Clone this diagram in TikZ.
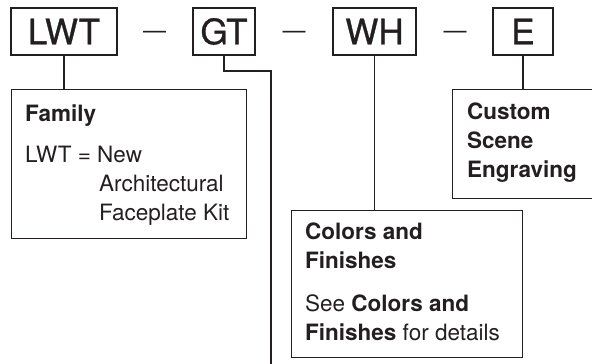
\documentclass[tikz,border=0pt]{standalone}
\usepackage{fontspec}
\setmainfont{TeX Gyre Heros}
\newfontfamily\codefont[FakeBold=0.8]{TeX Gyre Heros}
\definecolor{ink}{HTML}{231F20}
\begin{document}
\begin{tikzpicture}[x=1pt,y=-1pt,
  ln/.style={line width=1.4pt, draw=ink},
  codebox/.style={draw=ink, line width=1.4pt, inner sep=0pt, minimum height=47pt, font=\codefont\fontsize{35}{35}\selectfont, text=ink},
  infobox/.style={draw=ink, line width=1.4pt, inner sep=0pt, anchor=north west},
  txt/.style={anchor=base west, inner sep=0pt, font=\fontsize{22.5}{27}\selectfont, text=ink},
  hd/.style={txt, font=\fontsize{22.5}{27}\selectfont\bfseries},
  dashsym/.style={anchor=base, inner sep=0pt, font=\fontsize{23}{23}\selectfont, text=ink}]
\useasboundingbox (0,0) rectangle (592,364);
% code boxes
\node[codebox, minimum width=106pt] (lwt) at (64,31.5) {LWT};
\node[codebox, minimum width=62pt] (gt) at (224,31.5) {GT};
\node[codebox, minimum width=83pt] (wh) at (374.5,31.5) {WH};
\node[codebox, minimum width=60pt] (e) at (523,31.5) {E};
% dashes
\node[dashsym] (d1) at (154.5,38) {—};
\node[dashsym] (d2) at (294,38) {—};
\node[dashsym] (d3) at (455,38) {—};
% info boxes
\node[infobox, minimum width=235pt, minimum height=149pt] (family) at (11,89) {};
\node[infobox, minimum width=231pt, minimum height=147pt] (colors) at (291,210) {};
\node[infobox, minimum width=150pt, minimum height=109pt] (custom) at (452,89) {};
% family text
\node[hd] (famh) at (25,121) {Family};
\node[txt] (fam1) at (25,162) {LWT = New};
\node[txt] (fam2) at (99,191) {Architectural};
\node[txt] (fam3) at (99,220) {Faceplate Kit};
% custom text
\node[hd] (cus1) at (467,119) {Custom};
\node[hd] (cus2) at (467,148) {Scene};
\node[hd] (cus3) at (467,177) {Engraving};
% colors text
\node[hd] (col1) at (305,239) {Colors and};
\node[hd] (col2) at (305,268) {Finishes};
\node[txt] (col3) at (305,311) {See \textbf{Colors and}};
\node[txt] (col4) at (305,340) {\textbf{Finishes} for details};
% connectors
\draw[ln] (lwt.south) -- (lwt.south |- family.north);
\draw[ln] (wh.south) -- (wh.south |- colors.north);
\draw[ln] (e.south) -- (e.south |- custom.north);
\coordinate (gtbend) at (271,71);
\coordinate (gtend) at (271,368);
\draw[ln] (gt.south) |- (gtbend) -- (gtend);
\end{tikzpicture}
\end{document}
